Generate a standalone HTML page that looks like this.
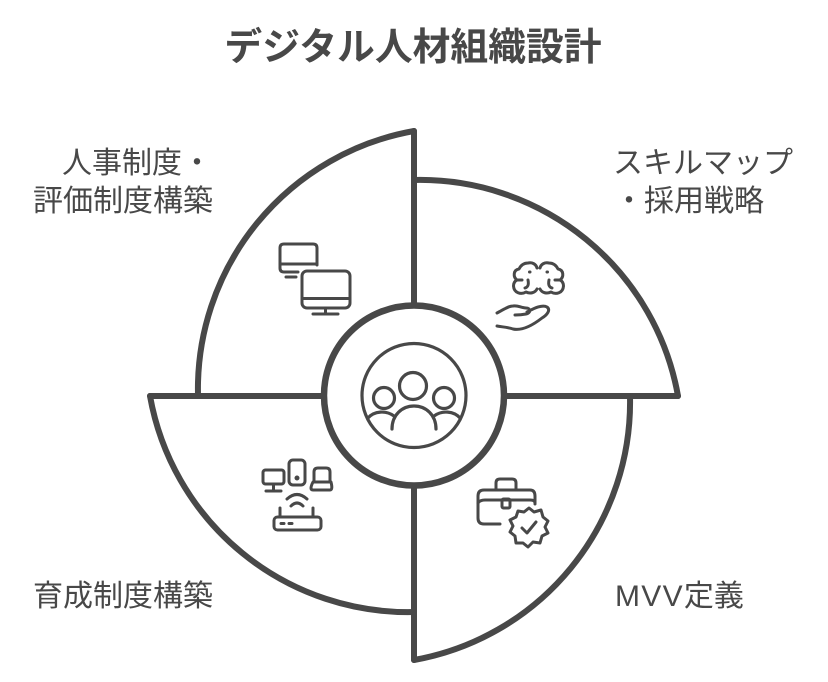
<!DOCTYPE html>
<html lang="ja"><head><meta charset="utf-8"><style>
html,body{margin:0;padding:0;background:#fff;width:828px;height:682px;overflow:hidden}
svg{display:block}
text{font-family:"Liberation Sans","Noto Sans CJK JP",sans-serif;fill:#484848}
.l{font-size:30px}
</style></head><body>
<svg width="828" height="682" viewBox="0 0 828 682" xmlns="http://www.w3.org/2000/svg">
<rect width="828" height="682" fill="#fff"/>
<text x="413" y="60" text-anchor="middle" font-size="37.800" font-weight="700">デジタル人材組織設計</text>
<g fill="none" stroke="#484848" stroke-width="6" stroke-linecap="round" stroke-linejoin="round">
<path d="M414 131A262 262 0 0 0 198 395"/>
<path d="M414 180A262 262 0 0 1 678 396"/>
<path d="M630 396A262 262 0 0 1 414 660"/>
<path d="M150 396A262 262 0 0 0 414 612"/>
<path d="M414 131V303M414 488V660M150 396H321M507 396H678"/>
<circle cx="414" cy="395.500" r="90" fill="#fff" stroke-width="6.500"/>
</g>
<g fill="none" stroke="#484848" stroke-width="3.200" stroke-linecap="round" stroke-linejoin="round">
<circle cx="414" cy="395.500" r="52"/>
<circle cx="413" cy="386" r="13.500"/>
<circle cx="384" cy="398" r="10.500"/>
<circle cx="444" cy="398" r="10.500"/>
<path d="M392 429C392 415 402 406 414 406C426 406 436 415 436 429"/>
<path d="M368 418C374 411 386 410 394 416M434 416C442 410 454 411 460 418"/>
</g>
<g fill="none" stroke="#484848" stroke-width="3" stroke-linecap="round" stroke-linejoin="round">
<path d="M298 272H284Q280 272 280 268V248Q280 244 284 244H313Q317 244 317 248V265"/>
<path d="M280 264H317M286 277H296"/>
<rect x="302" y="271" width="48" height="37" rx="5"/>
<path d="M302 298.500H350M325.500 308V313M313 314H338"/>
<g id="b">
<path d="M537 289C535 293 530 294 526 292C521 295 514 293 513.500 286C513.500 283 515 281 517 280C513 277 513 270 519 269C521 265 524 263 528 263C532 262 536 264 537 268"/>
<path d="M517 280H522M528 280C529 285 528 287 525 288M529.500 272H530"/>
</g>
<g transform="translate(1077,0) scale(-1,1)">
<path d="M537 289C535 293 530 294 526 292C521 295 514 293 513.500 286C513.500 283 515 281 517 280C513 277 513 270 519 269C521 265 524 263 528 263C532 262 536 264 537 268"/>
<path d="M517 280H522M528 280C529 285 528 287 525 288M529.500 272H530"/>
</g>
<path d="M497 313C503 310 508 306 513 306C518 305 521 308 526 308C531 308 531 313 526 314C521 315 518 315 515 315M527 312C533 309 542 304 547 307C551 310 547 315 542 318C533 325 522 331 513 329C507 327 502 327 497 326"/>
<rect x="263" y="470" width="21" height="14" rx="2.500"/>
<path d="M273.500 484V490M266 491H281"/>
<rect x="289" y="460" width="16" height="25" rx="4"/>
<circle cx="297" cy="478" r="1" fill="#484848"/>
<path d="M314 482V472Q314 468 318 468H326Q330 468 330 472V482"/>
<path d="M313 482H331Q333 490 330 490H313Q309 490 313 482Z"/>
<path d="M287 499Q297 490 307 499M291 506Q297 500 303 506"/>
<rect x="274" y="517" width="47" height="13" rx="3.500"/>
<path d="M280 516V508M313 516V508M281 523.500H284M289 523.500H292"/>
<path d="M500 524H484Q478 524 478 518V496Q478 490 484 490H530Q535 490 535 496V504"/>
<path d="M478 503Q480 500 485 500H530Q535 500 535 503"/>
<path d="M496 490V483Q496 479 500 479H512Q516 479 516 483V490"/>
<rect x="502" y="499" width="8" height="9" rx="1.500"/>
<path d="M529 508L534 512L541 510L543 517L548 521L545 527L548 533L542 536L540 543L533 542L528 547L523 543L516 543L515 536L510 532L513 526L510 520L516 517L518 511L524 512Z"/>
<path d="M522 528L527 533L536 522"/>
</g>
<text class="l" x="62" y="173">人事制度・</text>
<text class="l" x="33" y="211">評価制度構築</text>
<text class="l" x="613" y="173">スキルマップ</text>
<text class="l" x="614" y="211">・採用戦略</text>
<text class="l" x="33" y="606">育成制度構築</text>
<text class="l" x="615" y="606"><tspan letter-spacing="1.300">MVV</tspan>定義</text>
</svg>
</body></html>
